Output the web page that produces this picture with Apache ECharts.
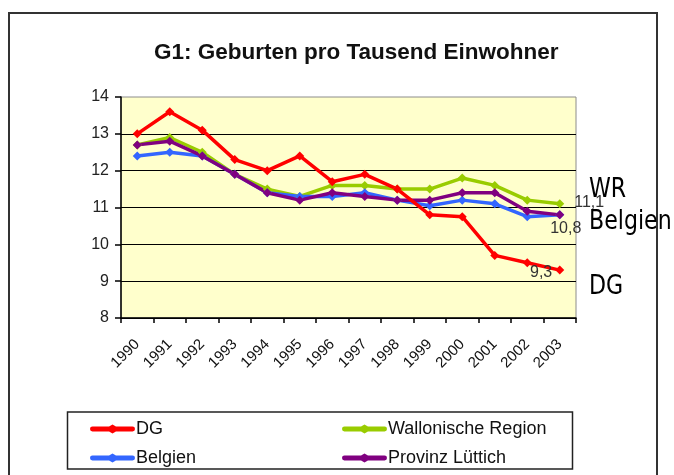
<!DOCTYPE html>
<html>
<head>
<meta charset="utf-8">
<style>
  html, body { margin: 0; padding: 0; background: #fff; }
  #chart { width: 674px; height: 475px; }
</style>
<script src="https://cdn.jsdelivr.net/npm/echarts@6/dist/echarts.min.js"></script>
</head>
<body>
<div id="chart"></div>
<script>
// x轴年份
let years = ['1990', '1991', '1992', '1993', '1994', '1995', '1996', '1997', '1998', '1999', '2000', '2001', '2002', '2003'];
// 各地区出生率(每千人)
let dgValues = [13.0, 13.6, 13.1, 12.3, 12.0, 12.4, 11.7, 11.9, 11.5, 10.8, 10.75, 9.7, 9.5, 9.3];
let wrValues = [12.7, 12.9, 12.5, 11.9, 11.5, 11.3, 11.6, 11.6, 11.5, 11.5, 11.8, 11.6, 11.2, 11.1];
let belgienValues = [12.4, 12.5, 12.4, 11.9, 11.4, 11.3, 11.3, 11.4, 11.2, 11.05, 11.2, 11.1, 10.75, 10.8];
let luettichValues = [12.7, 12.8, 12.4, 11.9, 11.4, 11.2, 11.4, 11.3, 11.2, 11.2, 11.4, 11.4, 10.9, 10.8];
// y轴刻度
let yTicks = [8, 9, 10, 11, 12, 13, 14];

let fontArial = 'Liberation Sans, Arial, sans-serif';

// 最后一个点带数值标签
function withLastLabel(values, label) {
  let last = values.length - 1;
  return values.map((v, i) => {
    if (i !== last) {
      return v;
    }
    return { value: v, label: Object.assign({ show: true }, label) };
  });
}

let lastLabelStyle = {
  fontFamily: fontArial,
  fontSize: 16,
  color: '#333',
  formatter: (p) => String(p.value).replace('.', ','),
};

// 图例图标: 线 + 菱形
let legendIcon = 'path://M2,2 L19,2 L22.5,0 L26,2 L43,2 A2.5,2.5 0 0 1 43,7 L26,7 L22.5,9 L19,7 L2,7 A2.5,2.5 0 0 1 2,2 Z';

function lineSeries(name, color, data) {
  return {
    name: name,
    type: 'line',
    data: data,
    symbol: 'diamond',
    symbolSize: 9,
    showSymbol: true,
    lineStyle: { color: color, width: 3.5 },
    itemStyle: { color: color },
    label: Object.assign({}, lastLabelStyle),
    animation: false,
  };
}

let legendBase = {
  orient: 'vertical',
  top: 415,
  itemWidth: 45,
  itemHeight: 9,
  itemGap: 11,
  icon: legendIcon,
  textStyle: { fontFamily: fontArial, fontSize: 18, color: '#111', lineHeight: 18, padding: [0, 0, 0, -4] },
};

let option = {
  backgroundColor: '#fff',
  title: {
    text: 'G1: Geburten pro Tausend Einwohner',
    left: 149,
    top: 36,
    textStyle: { fontFamily: fontArial, fontSize: 22.5, fontWeight: 'bold', color: '#111' },
  },
  grid: {
    left: 121,
    top: 97,
    width: 455,
    height: 221,
    show: true,
    backgroundColor: '#ffffcc',
    borderColor: '#8c8c8c',
    borderWidth: 1,
  },
  legend: [
    Object.assign({}, legendBase, { left: 85, data: ['DG', 'Belgien'] }),
    Object.assign({}, legendBase, { left: 337, data: ['Wallonische Region', 'Provinz Lüttich'] }),
  ],
  xAxis: {
    type: 'category',
    data: years,
    boundaryGap: true,
    axisLine: { lineStyle: { color: '#000', width: 1.5 } },
    axisTick: { show: true, length: 5, interval: 0, lineStyle: { color: '#000', width: 1.5 } },
    axisLabel: {
      interval: 0,
      rotate: 45,
      margin: 24,
      fontFamily: fontArial,
      fontSize: 15,
      color: '#111',
    },
  },
  yAxis: {
    type: 'value',
    min: yTicks[0],
    max: yTicks[yTicks.length - 1],
    interval: 1,
    axisLine: { show: true, lineStyle: { color: '#000', width: 1.5 } },
    axisTick: { show: true, inside: false, length: 6, lineStyle: { color: '#000', width: 1.5 } },
    axisLabel: { margin: 12, fontFamily: fontArial, fontSize: 16, color: '#222' },
    splitLine: { show: true, showMaxLine: false, lineStyle: { color: '#000', width: 1.2 } },
  },
  series: [
    lineSeries('Wallonische Region', '#99cc00',
      withLastLabel(wrValues, { position: 'right', distance: 10, offset: [0, -1] })),
    lineSeries('Belgien', '#3366ff',
      withLastLabel(belgienValues, { position: 'bottom', distance: 1, offset: [6, 0] })),
    lineSeries('Provinz Lüttich', '#800080', luettichValues),
    lineSeries('DG', '#ff0000',
      withLastLabel(dgValues, { position: 'left', distance: 3, offset: [0, 2] })),
  ],
  graphic: [
    // 外框
    {
      type: 'rect',
      silent: true,
      shape: { x: 9, y: 13, width: 648, height: 480 },
      style: { fill: 'none', stroke: '#333', lineWidth: 2 },
    },
    // 图例框
    {
      type: 'rect',
      silent: true,
      shape: { x: 67.5, y: 412, width: 505, height: 57 },
      style: { fill: 'none', stroke: '#222', lineWidth: 1.5 },
    },
    // 右侧注释
    {
      type: 'text', x: 589, y: 190, scaleX: 0.85, silent: true,
      style: { text: 'WR', fontFamily: 'DejaVu Sans', fontSize: 26, fill: '#000', verticalAlign: 'middle' },
    },
    {
      type: 'text', x: 589, y: 222, scaleX: 0.85, silent: true,
      style: { text: 'Belgien', fontFamily: 'DejaVu Sans', fontSize: 26, fill: '#000', verticalAlign: 'middle' },
    },
    {
      type: 'text', x: 589, y: 287, scaleX: 0.85, silent: true,
      style: { text: 'DG', fontFamily: 'DejaVu Sans', fontSize: 26, fill: '#000', verticalAlign: 'middle' },
    },
  ],
};

let myChart = echarts.init(document.getElementById('chart'), null, { renderer: 'canvas' });
myChart.setOption(option);
window.addEventListener('resize', () => {
  myChart.resize();
});
</script>
</body>
</html>
